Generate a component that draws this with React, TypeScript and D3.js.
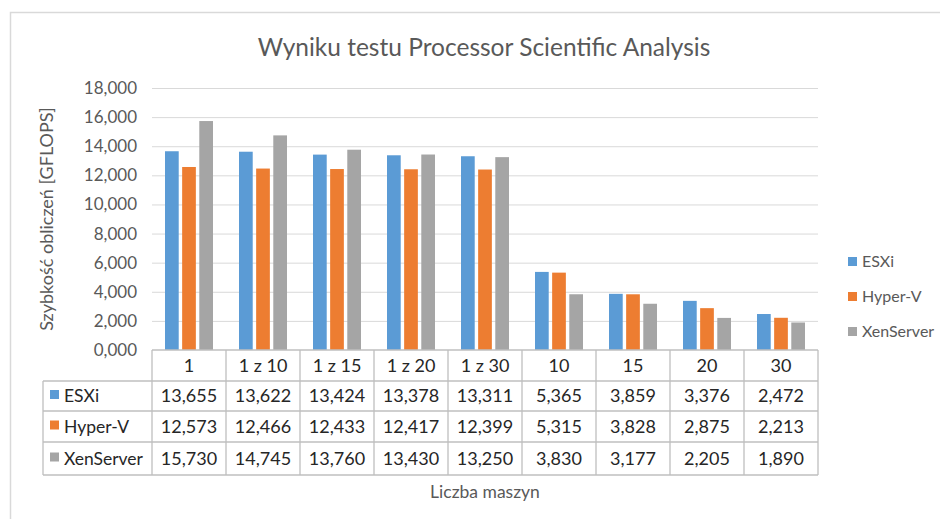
import React from "react";
import * as d3 from "d3";

const categories = ["1", "1 z 10", "1 z 15", "1 z 20", "1 z 30", "10", "15", "20", "30"];
const seriesNames = ["ESXi", "Hyper-V", "XenServer"];
const esxi = [13655, 13622, 13424, 13378, 13311, 5365, 3859, 3376, 2472];
const hyperV = [12573, 12466, 12433, 12417, 12399, 5315, 3828, 2875, 2213];
const xenServer = [15730, 14745, 13760, 13430, 13250, 3830, 3177, 2205, 1890];
const yTicks = [0, 2000, 4000, 6000, 8000, 10000, 12000, 14000, 16000, 18000];
const colors = ["#5B9BD5", "#ED7D31", "#A5A5A5"];

const series = [esxi, hyperV, xenServer];
const font = "Lato, 'Open Sans', sans-serif";

const fmt = (v: number) => {
  const s = String(v);
  return s.length > 3 ? s.slice(0, s.length - 3) + "," + s.slice(-3) : "0," + s.padStart(3, "0");
};

const App = () => {
  const width = 940;
  const height = 519;
  const plotLeft = 152;
  const plotRight = 818;
  const plotTop = 88;
  const plotBottom = 350;

  const x = d3.scaleBand().domain(categories).range([plotLeft, plotRight]);
  const inner = d3
    .scaleBand()
    .domain(seriesNames)
    .range([13, x.bandwidth() - 13])
    .paddingInner(0.2);
  const y = d3.scaleLinear().domain([0, 18000]).range([plotBottom, plotTop]);

  const tableLeft = 43;
  const rowTops = [350, 381, 411, 442, 475];
  const gridColor = "#D9D9D9";
  const tableColor = "#BFBFBF";

  return (
    <svg width={width} height={height} style={{ position: "absolute", left: 0, top: 0 }}>
      <rect x={0} y={0} width={width} height={height} fill="#fff" />
      <path d={`M10.5,${height} V12.5 H${width}`} fill="none" stroke={gridColor} strokeWidth={1.5} />
      <text x={484} y={56} textAnchor="middle" fontFamily={font} fontSize={24.5} fill="#595959">
        Wyniku testu Processor Scientific Analysis
      </text>

      {yTicks.map((t) => (
        <g key={t}>
          {t > 0 && (
            <line x1={plotLeft} x2={plotRight} y1={y(t) + 0.5} y2={y(t) + 0.5} stroke={gridColor} strokeWidth={1} />
          )}
          <text x={137} y={y(t) + 6} textAnchor="end" fontFamily={font} fontSize={17} fill="#595959">
            {fmt(t)}
          </text>
        </g>
      ))}

      <text
        transform={`translate(53,219) rotate(-90)`}
        textAnchor="middle"
        fontFamily={font}
        fontSize={18}
        fill="#595959"
      >
        Szybkość obliczeń [GFLOPS]
      </text>

      {categories.map((c, i) => (
        <g key={c} transform={`translate(${x(c)},0)`}>
          {series.map((s, k) => (
            <rect
              key={k}
              x={inner(seriesNames[k])}
              y={y(s[i])}
              width={inner.bandwidth()}
              height={plotBottom - y(s[i])}
              fill={colors[k]}
            />
          ))}
        </g>
      ))}

      {/* data table */}
      <g fill="none" stroke={tableColor} strokeWidth={1.3}>
        <line x1={plotLeft} x2={plotRight} y1={rowTops[0]} y2={rowTops[0]} />
        {rowTops.slice(1).map((r) => (
          <line key={r} x1={tableLeft} x2={plotRight} y1={r} y2={r} />
        ))}
        <line x1={tableLeft} x2={tableLeft} y1={rowTops[1]} y2={rowTops[4]} />
        {categories.map((c) => (
          <line key={c} x1={x(c)} x2={x(c)} y1={rowTops[0]} y2={rowTops[4]} />
        ))}
        <line x1={plotRight} x2={plotRight} y1={rowTops[0]} y2={rowTops[4]} />
      </g>
      {categories.map((c) => (
        <text
          key={c}
          x={(x(c) as number) + x.bandwidth() / 2}
          y={(rowTops[0] + rowTops[1]) / 2 + 6}
          textAnchor="middle"
          fontFamily={font}
          fontSize={18}
          fill="#262626"
        >
          {c}
        </text>
      ))}
      {series.map((s, k) => {
        const mid = (rowTops[k + 1] + rowTops[k + 2]) / 2 + 6;
        return (
          <g key={k}>
            <rect x={50} y={mid - 12} width={9} height={9} fill={colors[k]} />
            <text x={64} y={mid} fontFamily={font} fontSize={17.5} fill="#262626">
              {seriesNames[k]}
            </text>
            {s.map((v, i) => (
              <text
                key={i}
                x={(x(categories[i]) as number) + x.bandwidth() / 2}
                y={mid}
                textAnchor="middle"
                fontFamily={font}
                fontSize={18}
                fill="#262626"
              >
                {fmt(v)}
              </text>
            ))}
          </g>
        );
      })}

      <text x={485} y={498} textAnchor="middle" fontFamily={font} fontSize={17.5} fill="#595959">
        Liczba maszyn
      </text>

      {seriesNames.map((n, k) => (
        <g key={n} transform={`translate(848,${262 + k * 35})`}>
          <rect x={0} y={-5} width={9} height={9} fill={colors[k]} />
          <text x={14} y={5} fontFamily={font} fontSize={16} fill="#595959">
            {n}
          </text>
        </g>
      ))}
    </svg>
  );
};

export default App;
